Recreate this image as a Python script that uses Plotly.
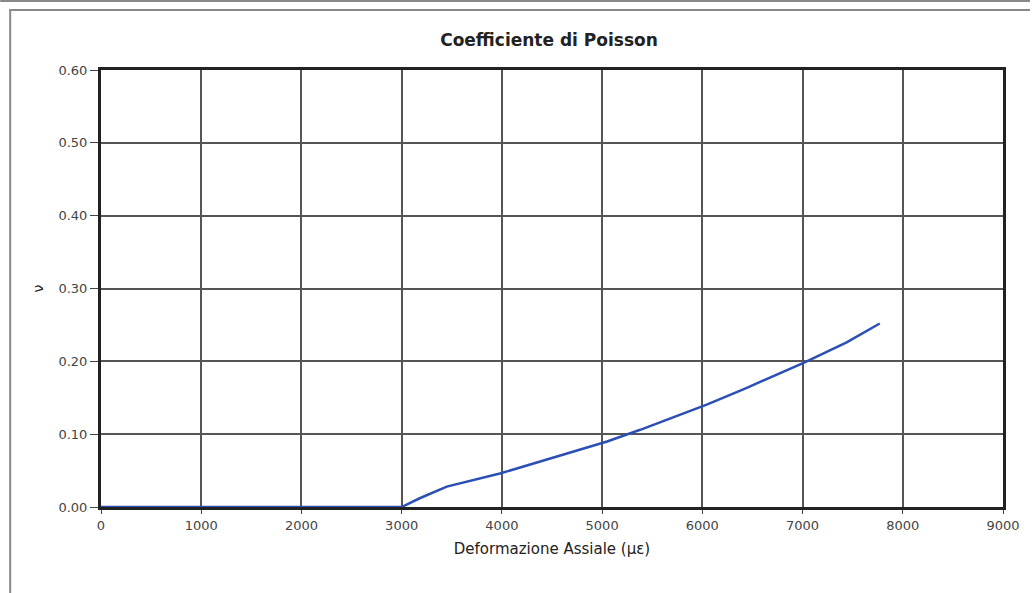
import plotly.graph_objects as go

# Data
deformazione = [0, 500, 1000, 1500, 2000, 2500, 3000, 3180, 3450, 3980, 4580, 5050,
                5380, 6050, 6450, 7010, 7440, 7770]
poisson = [0.0, 0.0, 0.0, 0.0, 0.0, 0.0, 0.0, 0.012, 0.028, 0.046, 0.071, 0.090,
           0.106, 0.141, 0.164, 0.198, 0.226, 0.252]

x_ticks = [0, 1000, 2000, 3000, 4000, 5000, 6000, 7000, 8000, 9000]
y_ticks = [0.0, 0.1, 0.2, 0.3, 0.4, 0.5, 0.6]
y_tick_labels = ["0.00", "0.10", "0.20", "0.30", "0.40", "0.50", "0.60"]

W, H = 1032, 593
L, R, T, B = 101, 27, 70, 86
pw, ph = W - L - R, H - T - B


def px(x):
    return (x - L) / pw


def py(y):
    return (H - B - y) / ph


fig = go.Figure()
fig.add_trace(go.Scatter(
    x=deformazione, y=poisson, mode="lines",
    line=dict(color="#2b4fb3", width=2.5),
    showlegend=False, hoverinfo="skip",
))

font_family = "DejaVu Sans, Verdana, sans-serif"

fig.update_layout(
    width=W, height=H,
    margin=dict(l=L, r=R, t=T, b=B),
    paper_bgcolor="white", plot_bgcolor="white",
    title=dict(text="<b>Coefficiente di Poisson</b>", x=549 / W, xanchor="center",
               y=1 - 40 / H, yanchor="middle",
               font=dict(family=font_family, size=17, color="#222")),
    font=dict(family=font_family, size=13, color="#333"),
    xaxis=dict(
        range=[0, 9000], tickvals=x_ticks, ticktext=[str(v) for v in x_ticks],
        showgrid=True, gridcolor="#555", gridwidth=2,
        showline=True, linecolor="#222", linewidth=3, mirror=True,
        ticks="outside", ticklen=4, tickcolor="#444", zeroline=False,
        title=dict(text="Deformazione Assiale (µε)", standoff=12,
                   font=dict(family=font_family, size=15, color="#222")),
        tickfont=dict(size=13, color="#444"),
    ),
    yaxis=dict(
        range=[0, 0.6], tickvals=y_ticks, ticktext=y_tick_labels,
        showgrid=True, gridcolor="#555", gridwidth=2,
        showline=True, linecolor="#222", linewidth=3, mirror=True,
        ticks="outside", ticklen=8, tickcolor="#444", zeroline=False,
        title=dict(text="ν", standoff=12,
                   font=dict(family=font_family, size=14, color="#222")),
        tickfont=dict(size=13, color="#444"),
    ),
    shapes=[
        dict(type="line", xref="paper", yref="paper",
             x0=px(0), x1=px(W), y0=py(1), y1=py(1),
             line=dict(color="#888", width=2)),
        dict(type="line", xref="paper", yref="paper",
             x0=px(9), x1=px(W), y0=py(10), y1=py(10),
             line=dict(color="#888", width=2)),
        dict(type="line", xref="paper", yref="paper",
             x0=px(10), x1=px(10), y0=py(10), y1=py(H),
             line=dict(color="#888", width=2)),
    ],
)

fig.write_html("out.html", config={"displayModeBar": False},
               post_script=("document.body.style.margin='0';"
                            "document.body.style.padding='0';"
                            "document.body.style.overflow='hidden';"
                            "document.documentElement.style.overflow='hidden';"))
